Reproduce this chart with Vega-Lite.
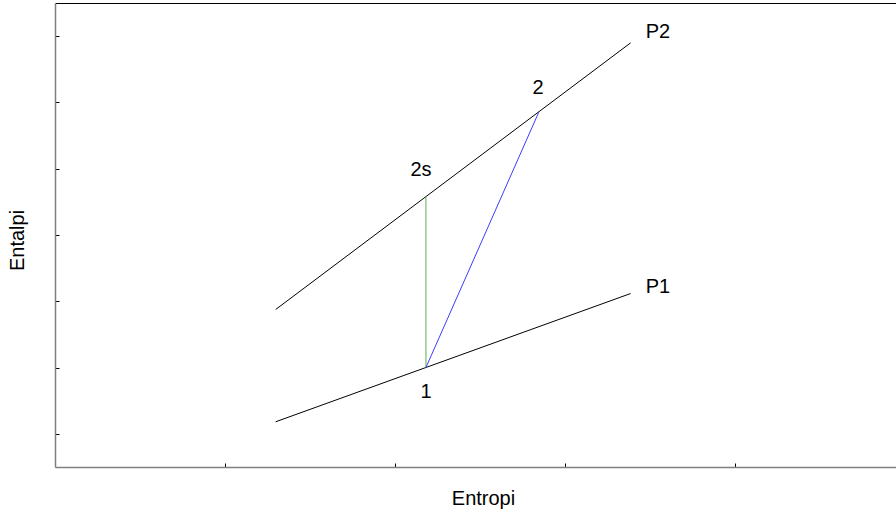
{
  "$schema": "https://vega.github.io/schema/vega-lite/v6.json",
  "width": 841,
  "height": 464,
  "autosize": "none",
  "padding": {"left": 55, "top": 3, "right": 0, "bottom": 46},
  "background": "white",
  "config": {
    "view": {"stroke": null},
    "font": "Liberation Sans",
    "axis": {"grid": false, "labels": false, "titleFont": "Liberation Sans", "titleFontWeight": "normal", "titleColor": "black", "titleFontSize": 20}
  },
  "datasets": {
    "lines": [
      {"series": "P1", "ord": 1, "s": 1.298, "h": 0.682},
      {"series": "P1", "ord": 2, "s": 3.386, "h": 2.617},
      {"series": "P2", "ord": 1, "s": 1.298, "h": 2.376},
      {"series": "P2", "ord": 2, "s": 3.386, "h": 6.399},
      {"series": "isentrop", "ord": 1, "s": 2.182, "h": 1.501},
      {"series": "isentrop", "ord": 2, "s": 2.182, "h": 4.079},
      {"series": "verklig", "ord": 1, "s": 2.182, "h": 1.501},
      {"series": "verklig", "ord": 2, "s": 2.847, "h": 5.36}
    ],
    "labels": [
      {"label": "P2", "s": 3.547, "h": 6.57},
      {"label": "P1", "s": 3.547, "h": 2.723},
      {"label": "2", "s": 2.841, "h": 5.725},
      {"label": "2s", "s": 2.153, "h": 4.488},
      {"label": "1", "s": 2.182, "h": 1.139}
    ]
  },
  "layer": [
    {
      "data": {"name": "lines"},
      "mark": {"type": "line", "strokeWidth": 1},
      "encoding": {
        "x": {"field": "s", "type": "quantitative", "scale": {"domain": [0, 4.947], "nice": false, "zero": false},
          "axis": {"orient": "bottom", "title": "Entropi", "values": [1, 2, 3, 4], "tickSize": -4, "tickColor": "black", "domainColor": "#808080", "domainWidth": 1.5, "titleX": 428, "titleY": 31, "titleBaseline": "middle", "titleAnchor": "middle", "titleAlign": "center"}},
        "y": {"field": "h", "type": "quantitative", "scale": {"domain": [0, 7], "nice": false, "zero": false},
          "axis": {"orient": "left", "title": "Entalpi", "values": [0.5, 1.5, 2.5, 3.5, 4.5, 5.5, 6.5], "tickSize": -4, "tickColor": "black", "domainColor": "#808080", "domainWidth": 1.5, "titleX": -38, "titleY": 237, "titleAngle": -90, "titleBaseline": "middle", "titleAlign": "center", "titleAnchor": "middle"}},
        "detail": {"field": "series"},
        "order": {"field": "ord"},
        "color": {"field": "series", "type": "nominal", "legend": null,
          "scale": {"domain": ["P1", "P2", "isentrop", "verklig"], "range": ["black", "black", "#5cb04c", "#3c3cff"]}}
      }
    },
    {
      "data": {"name": "labels"},
      "mark": {"type": "text", "fontSize": 20, "align": "center", "baseline": "middle", "color": "black", "font": "Liberation Sans"},
      "encoding": {
        "x": {"field": "s", "type": "quantitative", "axis": {"orient": "top", "title": null, "ticks": false, "labels": false, "domainColor": "black", "domainWidth": 1}},
        "y": {"field": "h", "type": "quantitative"},
        "text": {"field": "label"}
      }
    }
  ],
  "resolve": {"axis": {"x": "independent"}}
}
